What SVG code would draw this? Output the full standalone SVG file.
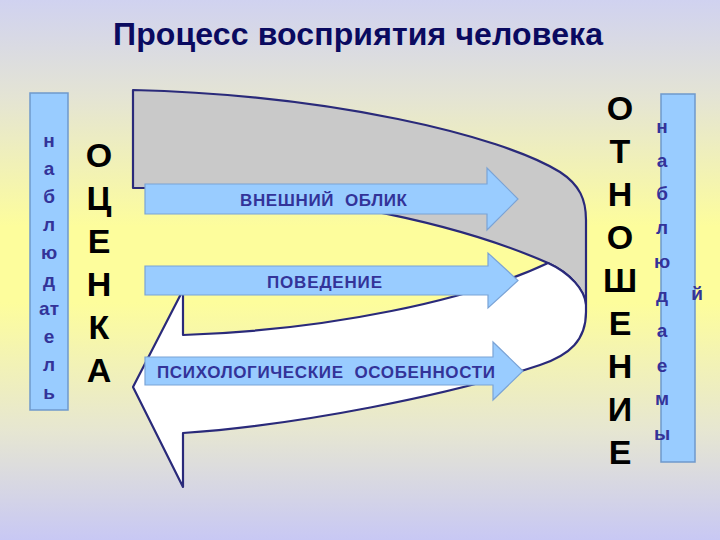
<svg xmlns="http://www.w3.org/2000/svg" width="720" height="540" viewBox="0 0 720 540">
  <defs>
    <linearGradient id="bg" x1="0" y1="0" x2="0" y2="1">
      <stop offset="0" stop-color="#d0d2f0"/>
      <stop offset="0.18" stop-color="#e4e4d4"/>
      <stop offset="0.42" stop-color="#fdfd9c"/>
      <stop offset="0.56" stop-color="#fdfd9c"/>
      <stop offset="0.8" stop-color="#e6e6d2"/>
      <stop offset="1" stop-color="#c8c8f4"/>
    </linearGradient>
  </defs>
  <style>
    .title { font-family: "Liberation Sans", Arial, sans-serif; font-weight: bold; font-size: 32px; fill: #0a0a60; }
    .bar { fill: #99ccff; stroke: #6f99cc; stroke-width: 1.5; }
    .small { font-family: "Liberation Sans", Arial, sans-serif; font-weight: bold; font-size: 19px; fill: #333399; text-anchor: middle; }
    .big { font-family: "Liberation Sans", Arial, sans-serif; font-weight: bold; font-size: 34px; fill: #000000; text-anchor: middle; }
    .band { stroke: #2a2a7a; stroke-width: 2.2; stroke-linejoin: round; }
    .arrow { fill: #99ccff; stroke: #7aa3d6; stroke-width: 1.2; }
    .lbl { font-family: "Liberation Sans", Arial, sans-serif; font-weight: bold; font-size: 17px; fill: #333399; white-space: pre; }
  </style>

  <rect x="0" y="0" width="720" height="540" fill="url(#bg)"/>

  <g id="title">
    <text class="title" x="113" y="45" textLength="490" lengthAdjust="spacing">Процесс восприятия человека</text>
  </g>

  <g id="connectors">
    <path class="band" fill="#c9c9c9" d="M133,90 C330,95 500,135 560,172 C580,185 586,200 586,220 L586,305 C585,290 570,273 548,263 C450,220 300,190 145,188 L133,188 Z"/>
    <path class="band" fill="#ffffff" d="M183,335 C330,330 470,300 548,263 C570,273 585,290 586,305 L586,312 C586,340 570,355 540,365 C450,395 300,425 183,433 L183,487 L133,387 L183,290 Z"/>
  </g>

  <g id="observer-left">
    <rect class="bar" x="30" y="93" width="38" height="317"/>
    <text class="small" x="49" y="147">н</text>
    <text class="small" x="49" y="175">а</text>
    <text class="small" x="49" y="203">б</text>
    <text class="small" x="49" y="231">л</text>
    <text class="small" x="49" y="259">ю</text>
    <text class="small" x="49" y="287">д</text>
    <text class="small" x="49" y="315">ат</text>
    <text class="small" x="49" y="343">е</text>
    <text class="small" x="49" y="371">л</text>
    <text class="small" x="49" y="399">ь</text>
  </g>

  <g id="ocenka">
    <text class="big" x="99" y="167">О</text>
    <text class="big" x="99" y="210">Ц</text>
    <text class="big" x="99" y="253">Е</text>
    <text class="big" x="99" y="296">Н</text>
    <text class="big" x="99" y="339">К</text>
    <text class="big" x="99" y="382">А</text>
  </g>

  <g id="arrow-appearance">
    <path class="arrow" d="M145,184 L487,184 L487,168 L518,199 L487,230 L487,214 L145,214 Z"/>
    <text class="lbl" x="240" y="206" textLength="167" lengthAdjust="spacing" xml:space="preserve">ВНЕШНИЙ  ОБЛИК</text>
  </g>

  <g id="arrow-behavior">
    <path class="arrow" d="M145,266 L488,266 L488,253 L518,280.5 L488,308 L488,295 L145,295 Z"/>
    <text class="lbl" x="267" y="288" textLength="115" lengthAdjust="spacing">ПОВЕДЕНИЕ</text>
  </g>

  <g id="arrow-psych">
    <path class="arrow" d="M145,357 L493,357 L493,342 L523,371 L493,400 L493,385 L145,385 Z"/>
    <text class="lbl" x="157" y="378" textLength="338" lengthAdjust="spacing" xml:space="preserve">ПСИХОЛОГИЧЕСКИЕ  ОСОБЕННОСТИ</text>
  </g>

  <g id="otnoshenie">
    <text class="big" x="620" y="120">О</text>
    <text class="big" x="620" y="163">Т</text>
    <text class="big" x="620" y="206">Н</text>
    <text class="big" x="620" y="249">О</text>
    <text class="big" x="620" y="292">Ш</text>
    <text class="big" x="620" y="335">Е</text>
    <text class="big" x="620" y="378">Н</text>
    <text class="big" x="620" y="421">И</text>
    <text class="big" x="620" y="464">Е</text>
  </g>

  <g id="observed-right">
    <rect class="bar" x="661" y="94" width="34" height="368"/>
    <text class="small" x="662" y="133">н</text>
    <text class="small" x="662" y="167">а</text>
    <text class="small" x="662" y="200">б</text>
    <text class="small" x="662" y="234">л</text>
    <text class="small" x="662" y="268">ю</text>
    <text class="small" x="662" y="302">д</text>
    <text class="small" x="662" y="337">а</text>
    <text class="small" x="662" y="372">е</text>
    <text class="small" x="662" y="405">м</text>
    <text class="small" x="662" y="440">ы</text>
    <text class="small" x="697" y="300">й</text>
  </g>
</svg>
